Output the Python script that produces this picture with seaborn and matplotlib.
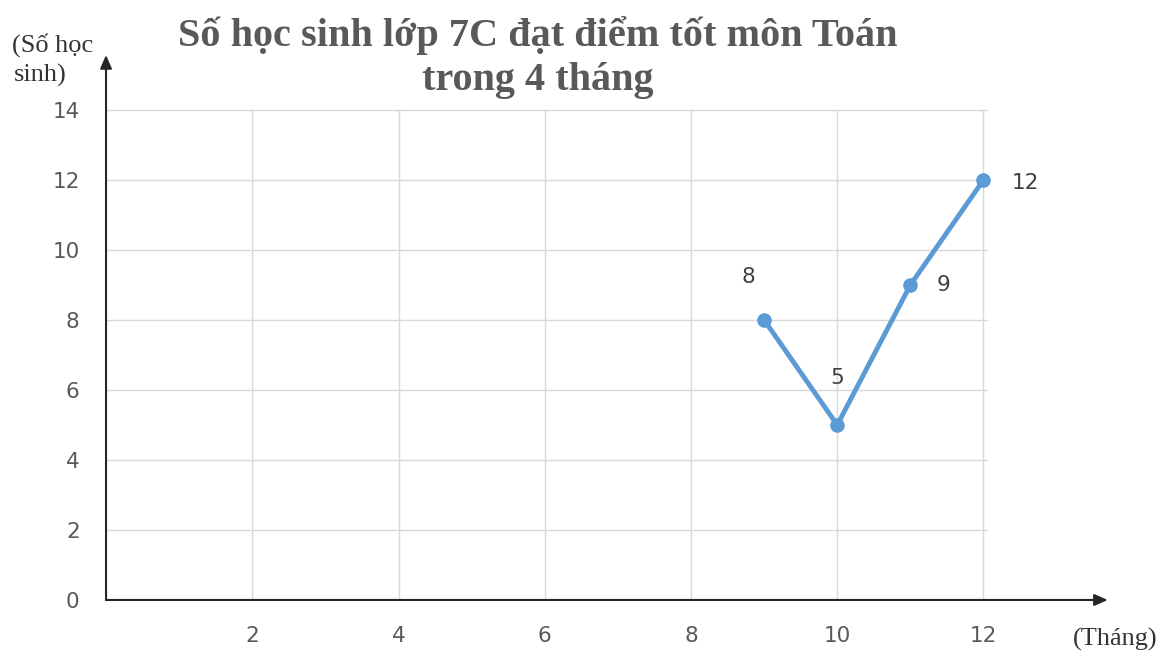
import matplotlib
matplotlib.use("Agg")
import matplotlib.pyplot as plt
import seaborn as sns
import pandas as pd

# data
months = [9, 10, 11, 12]
students = [8, 5, 9, 12]
x_ticks = [2, 4, 6, 8, 10, 12]
y_ticks = [0, 2, 4, 6, 8, 10, 12, 14]
title_lines = ["Số học sinh lớp 7C đạt điểm tốt môn Toán", "trong 4 tháng"]
y_label_lines = ["(Số học", "sinh)"]
x_label = "(Tháng)"

df = pd.DataFrame({"month": months, "students": students})

sns.set_style("white")
plt.rcParams["font.family"] = ["DejaVu Sans"]

fig = plt.figure(figsize=[11.6, 6.55], dpi=100)
ax = fig.add_axes([0.0914, 0.084, 0.8636, 0.832])
ax.set_xlim(0, 13.7)
ax.set_ylim(0, 15.57)

# grid (stops at the last tick like the original)
for yv in y_ticks[1:]:
    ax.plot([0, x_ticks[-1] + 0.05], [yv, yv], color="#d9d9d9", lw=1, zorder=0)
for xv in x_ticks:
    ax.plot([xv, xv], [0, y_ticks[-1]], color="#d9d9d9", lw=1, zorder=0)

sns.lineplot(data=df, x="month", y="students", ax=ax, color="#5b9bd5",
             linewidth=3.5, marker="o", markersize=10.5, markeredgewidth=0, zorder=3)

# point labels
offsets = [(-11, 31), (0, 34), (24, 0), (30, -2)]
for (mx, sv), off in zip(zip(months, students), offsets):
    ax.annotate(str(sv), (mx, sv), xytext=off, textcoords="offset points",
                ha="center", va="center", fontsize=15.5, color="#404040")

# axes as arrows
for s in ax.spines.values():
    s.set_visible(False)
ax.annotate("", xy=(13.7, 0), xytext=(0, 0),
            arrowprops=dict(arrowstyle="-|>,head_length=0.8,head_width=0.35",
                            color="#262626", lw=1.5, shrinkA=0, shrinkB=0))
ax.annotate("", xy=(0, 15.57), xytext=(0, 0),
            arrowprops=dict(arrowstyle="-|>,head_length=0.8,head_width=0.35",
                            color="#262626", lw=1.5, shrinkA=0, shrinkB=0))

ax.set_xticks(x_ticks)
ax.set_yticks(y_ticks)
ax.tick_params(axis="x", length=0, pad=19, labelsize=15.5, labelcolor="#595959")
ax.tick_params(axis="y", length=0, pad=19, labelsize=15.5, labelcolor="#595959")
ax.set_xlabel("")
ax.set_ylabel("")

fig.text(0.464, 0.946, title_lines[0], ha="center", va="center", fontsize=29,
         fontweight="bold", color="#595959", family="Liberation Serif")
fig.text(0.464, 0.877, title_lines[1], ha="center", va="center", fontsize=29,
         fontweight="bold", color="#595959", family="Liberation Serif")
fig.text(0.010, 0.931, y_label_lines[0], ha="left", va="center", fontsize=19,
         color="#333333", family="Liberation Serif")
fig.text(0.012, 0.885, y_label_lines[1], ha="left", va="center", fontsize=19,
         color="#333333", family="Liberation Serif")
fig.text(0.998, 0.023, x_label, ha="right", va="center", fontsize=19,
         color="#333333", family="Liberation Serif")

fig.savefig("out.png", dpi=100)
